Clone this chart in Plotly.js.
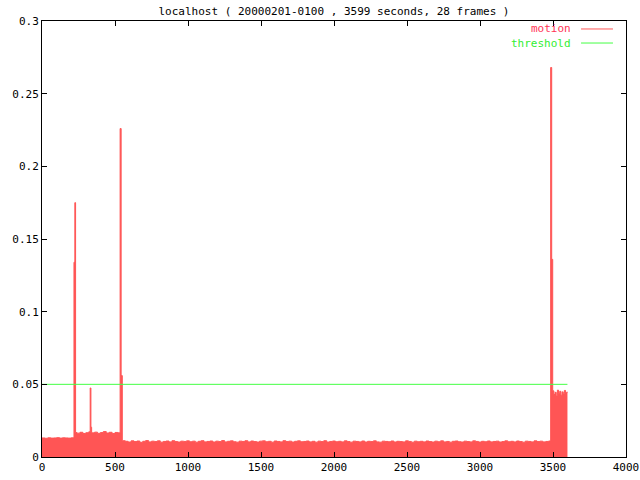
<!DOCTYPE html>
<html>
<head>
<meta charset="utf-8">
<script src="https://cdn.plot.ly/plotly-3.0.1.min.js"></script>
<style>html,body{margin:0;padding:0;background:#fff}#chart{width:640px;height:480px}</style>
</head>
<body>
<div id="chart"></div>
<script>
// Motion samples (seconds since start, motion level)
const motionTimes = [
  0,20,40,60,80,100,120,140,160,180,200,
  219,225,230,
  240,260,280,300,320,330,335,340,360,380,400,420,440,460,480,500,520,
  535,542,550,
  570,590,610,630,650,670,690,710,730,750,770,790,810,830,850,870,890,910,930,950,970,990,
  1010,1030,1050,1070,1090,1110,1130,1150,1170,1190,1210,1230,1250,1270,1290,1310,1330,1350,1370,1390,
  1410,1430,1450,1470,1490,1510,1530,1550,1570,1590,1610,1630,1650,1670,1690,1710,1730,1750,1770,1790,
  1810,1830,1850,1870,1890,1910,1930,1950,1970,1990,2010,2030,2050,2070,2090,2110,2130,2150,2170,2190,
  2210,2230,2250,2270,2290,2310,2330,2350,2370,2390,2410,2430,2450,2470,2490,2510,2530,2550,2570,2590,
  2610,2630,2650,2670,2690,2710,2730,2750,2770,2790,2810,2830,2850,2870,2890,2910,2930,2950,2970,2990,
  3010,3030,3050,3070,3090,3110,3130,3150,3170,3190,3210,3230,3250,3270,3290,3310,3330,3350,3370,3390,
  3410,3430,3450,3470,
  3484,3491,3498,
  3506,3514,3522,3530,3538,3546,3554,3562,3570,3578,3586,3594,3599
];
const motionValues = [
  0.0131,0.0129,0.0132,0.0130,0.0131,0.0133,0.0130,0.0132,0.0131,0.0130,0.0132,
  0.134,0.175,0.0168,
  0.0164,0.0170,0.0162,0.0167,0.0173,0.0475,0.0205,0.0166,0.0171,0.0163,0.0168,0.0175,0.0165,0.0170,0.0162,0.0169,0.0166,
  0.226,0.056,0.0112,
  0.0108,0.0103,0.0111,0.0106,0.0110,0.0101,0.0108,0.0113,0.0104,0.0109,0.0106,0.0111,0.0102,0.0107,0.0110,0.0104,0.0112,0.0106,0.0103,0.0109,0.0107,0.0111,
  0.0105,0.0109,0.0102,0.0108,0.0112,0.0104,0.0107,0.0110,0.0103,0.0109,0.0106,0.0113,0.0104,0.0108,0.0111,0.0105,0.0102,0.0109,0.0107,0.0112,
  0.0104,0.0110,0.0106,0.0103,0.0109,0.0111,0.0105,0.0108,0.0102,0.0110,0.0107,0.0104,0.0112,0.0106,0.0109,0.0103,0.0108,0.0111,0.0105,0.0107,
  0.0110,0.0104,0.0108,0.0102,0.0109,0.0106,0.0112,0.0103,0.0107,0.0110,0.0105,0.0108,0.0104,0.0111,0.0106,0.0102,0.0109,0.0107,0.0104,0.0110,
  0.0103,0.0108,0.0106,0.0111,0.0104,0.0102,0.0109,0.0107,0.0105,0.0110,0.0103,0.0108,0.0106,0.0104,0.0111,0.0107,0.0102,0.0109,0.0105,0.0108,
  0.0104,0.0110,0.0106,0.0103,0.0109,0.0105,0.0111,0.0104,0.0107,0.0102,0.0108,0.0110,0.0105,0.0103,0.0109,0.0106,0.0104,0.0111,0.0107,0.0103,
  0.0108,0.0105,0.0110,0.0104,0.0107,0.0109,0.0103,0.0106,0.0111,0.0105,0.0108,0.0104,0.0110,0.0106,0.0102,0.0109,0.0107,0.0104,0.0111,0.0106,
  0.0109,0.0104,0.0107,0.0110,
  0.268,0.136,0.0455,
  0.0430,0.0445,0.0420,0.0460,0.0438,0.0452,0.0425,0.0448,0.0435,0.0458,0.0440,0.0447,0.0447
];
// Threshold line
const thresholdTimes = [0, 3599];
const thresholdValues = [0.05, 0.05];

const title = 'localhost ( 20000201-0100 , 3599 seconds, 28 frames )';
const xTickVals = [0,500,1000,1500,2000,2500,3000,3500,4000];
const yTickVals = [0,0.05,0.1,0.15,0.2,0.25,0.3];
const yTickText = ['0','0.05','0.1','0.15','0.2','0.25','0.3'];

const traces = [
  {
    x: motionTimes, y: motionValues, type: 'scatter', mode: 'lines',
    name: 'motion', line: {color: '#ff5555', width: 1, shape: 'hv'},
    fill: 'tozeroy', fillcolor: '#ff5555'
  },
  {
    x: thresholdTimes, y: thresholdValues, type: 'scatter', mode: 'lines',
    name: 'threshold', line: {color: '#44ff44', width: 1}
  }
];

const axisCommon = {
  showgrid: false, zeroline: false, showline: true, linecolor: '#000', linewidth: 1,
  mirror: 'ticks', ticks: 'inside', ticklen: 5, tickcolor: '#000', tickwidth: 1,
  tickfont: {family: 'DejaVu Sans Mono', size: 11, color: '#000'}
};

const layout = {
  width: 640, height: 480,
  margin: {l: 42, r: 14, t: 21, b: 23, pad: 0},
  paper_bgcolor: '#fff', plot_bgcolor: '#fff',
  showlegend: false,
  font: {family: 'DejaVu Sans Mono', size: 11, color: '#000'},
  title: {text: title, x: 0.5, xref: 'paper', y: 0.977, yref: 'container', yanchor: 'middle',
          font: {family: 'DejaVu Sans Mono', size: 11, color: '#000'}},
  xaxis: Object.assign({}, axisCommon, {range: [0, 4000], tickvals: xTickVals}),
  yaxis: Object.assign({}, axisCommon, {range: [0, 0.3], tickvals: yTickVals, ticktext: yTickText}),
  annotations: [
    {text: 'motion', xref: 'paper', yref: 'paper', x: 0.9075, y: 0.9817, xanchor: 'right', yanchor: 'middle',
     showarrow: false, borderpad: 0, font: {family: 'DejaVu Sans Mono', size: 11, color: '#ff3355'}},
    {text: 'threshold', xref: 'paper', yref: 'paper', x: 0.9075, y: 0.9495, xanchor: 'right', yanchor: 'middle',
     showarrow: false, borderpad: 0, font: {family: 'DejaVu Sans Mono', size: 11, color: '#33ee33'}}
  ],
  shapes: [
    {type: 'line', xref: 'paper', yref: 'paper', x0: 0.923, x1: 0.9777, y0: 0.9817, y1: 0.9817,
     line: {color: '#ff5555', width: 1}},
    {type: 'line', xref: 'paper', yref: 'paper', x0: 0.923, x1: 0.9777, y0: 0.9495, y1: 0.9495,
     line: {color: '#44ff44', width: 1}}
  ]
};

Plotly.newPlot('chart', traces, layout, {staticPlot: true, displayModeBar: false});
</script>
</body>
</html>
